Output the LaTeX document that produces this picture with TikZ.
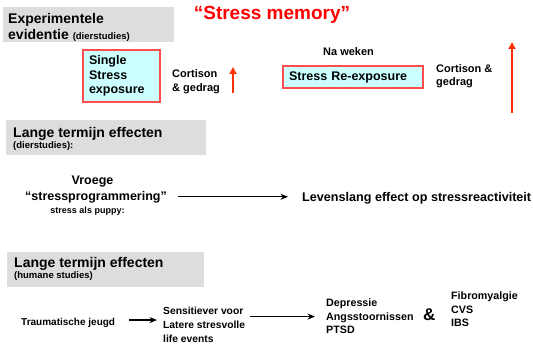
\documentclass[tikz,border=0pt]{standalone}
\usepackage{fontspec}
\setmainfont{Liberation Sans}
\usepackage{xcolor}
\usepackage{tikz}
\usetikzlibrary{arrows.meta}

\definecolor{headgray}{HTML}{DDDDDD}
\definecolor{boxcyan}{HTML}{CCFFFF}
\definecolor{boxred}{HTML}{FF4D4D}
\definecolor{risered}{HTML}{FF3300}

\begin{document}
\begin{tikzpicture}[x=1pt,y=-1pt,
		hd/.style={inner sep=0pt, anchor=base west, font=\bfseries\fontsize{14}{16}\selectfont},
		sub/.style={inner sep=0pt, anchor=base west, font=\bfseries\fontsize{9.5}{11}\selectfont},
		lbl/.style 2 args={inner sep=0pt, anchor=west, align=left, font=\bfseries\fontsize{#1}{#2}\selectfont},
		stressbox/.style={draw=boxred, line width=1.2pt, fill=boxcyan, inner xsep=6pt, inner ysep=0pt, align=left, font=\bfseries\fontsize{12.5}{14.5}\selectfont},
		rise/.style={draw=risered, line width=2pt, -{Triangle[length=7pt,width=7pt]}},
		conn/.style={draw, line width=1.3pt, -{Stealth[length=7.5pt,width=6pt]}}]
		\useasboundingbox (0,0) rectangle (533,345);
		
		\fill[headgray] (3,7) rectangle (174,42);
		\fill[headgray] (6,120) rectangle (206,155);
		\fill[headgray] (7,252) rectangle (204,287);
		
		\node[hd] (exp) at (8,24) {Experimentele};
		\node[hd] (evid) at (8,40) {evidentie {\fontsize{9.5}{11}\selectfont (dierstudies)}};
		\node[inner sep=0pt, anchor=base, text=red, font=\bfseries\fontsize{19}{22}\selectfont] (title) at (272,20) {“Stress memory”};
		
		\node[stressbox, text width=65pt, minimum width=77pt, minimum height=52pt] (single) at (121.5,76) {Single\\Stress\\exposure};
		\node[lbl={11}{14}] (cortA) at (172,82) {Cortison\\\& gedrag};
		\coordinate (lowA) at (233,93);
		\coordinate (highA) at (233,67);
		\draw[rise] (lowA) -- (highA);
		
		\node[inner sep=0pt, anchor=base west, font=\bfseries\fontsize{11}{13}\selectfont] (weken) at (323,56) {Na weken};
		\node[stressbox, text width=128pt, minimum height=22pt] (reexp) at (353,77) {Stress Re-exposure};
		\node[lbl={11}{13}] (cortB) at (436,76.5) {Cortison \&\\gedrag};
		\coordinate (lowB) at (512,113);
		\coordinate (highB) at (512,42);
		\draw[rise] (lowB) -- (highB);
		
		\node[hd] (animal) at (13,137) {Lange termijn effecten};
		\node[sub] (animalsub) at (13,148) {(dierstudies):};
		\node[inner sep=0pt, anchor=base, font=\bfseries\fontsize{12.5}{14}\selectfont] (early) at (92.5,184) {Vroege};
		\node[inner sep=0pt, anchor=base, font=\bfseries\fontsize{12.5}{14}\selectfont] (prog) at (96,200) {“stressprogrammering”};
		\node[inner sep=0pt, anchor=base, font=\bfseries\fontsize{9}{11}\selectfont] (puppy) at (87.5,213) {stress als puppy:};
		\node[inner sep=0pt, anchor=base west, font=\bfseries\fontsize{12.6}{14}\selectfont] (life) at (302,201.5) {Levenslang effect op stressreactiviteit};
		\draw[conn, shorten <=11pt, shorten >=14pt] (prog.east) -- (prog.east -| life.west);
		
		\node[hd] (human) at (14,267.5) {Lange termijn effecten};
		\node[sub] (humansub) at (14,278) {(humane studies)};
		\node[inner sep=0pt, anchor=base west, font=\bfseries\fontsize{10}{12}\selectfont] (trauma) at (21,325) {Traumatische jeugd};
		\node[lbl={10.3}{14}] (sens) at (163,325.2) {Sensitiever voor\\Latere stresvolle\\life events};
		\node[lbl={10.7}{13.5}] (dep) at (326,316.6) {Depressie\\Angsstoornissen\\PTSD};
		\node[inner sep=0pt, anchor=base west, font=\bfseries\fontsize{17}{19}\selectfont] (amp) at (423,320) {\&};
		\node[lbl={10.7}{13.5}] (fibro) at (451,309.6) {Fibromyalgie\\CVS\\IBS};
		\draw[conn, shorten <=14pt, shorten >=6pt] ([yshift=2.4pt]trauma.east) -- ([yshift=2.4pt]trauma.east -| sens.west);
		\draw[conn, shorten <=5pt, shorten >=11pt] (sens.east |- dep.west) -- (dep.west);
		\end{tikzpicture}
\end{document}
